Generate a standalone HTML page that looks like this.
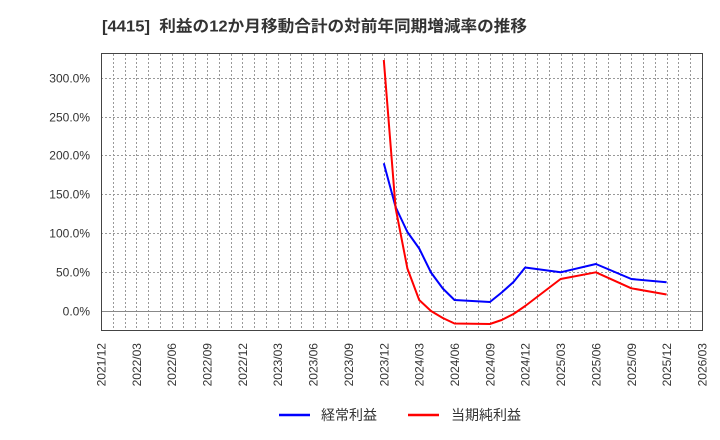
<!DOCTYPE html>
<html><head><meta charset="utf-8"><style>
html,body{margin:0;padding:0;background:#fff;}
svg{display:block;}
text{font-family:"Liberation Sans","Noto Sans CJK JP",sans-serif;fill:#333;}
</style></head><body>
<svg width="720" height="440" viewBox="0 0 720 440" xmlns="http://www.w3.org/2000/svg">
<rect x="0" y="0" width="720" height="440" fill="#fff"/>
<text x="102" y="31.5" font-size="16" font-weight="bold" xml:space="preserve" style="white-space:pre" textLength="425" lengthAdjust="spacingAndGlyphs">[4415]  利益の12か月移動合計の対前年同期増減率の推移</text>
<g id="vgrid" stroke="#999" stroke-width="1" stroke-dasharray="2,2">
</g>
<g stroke="#999" stroke-width="1" stroke-dasharray="2,2">
<line x1="101" y1="78.5" x2="702" y2="78.5"/>
<line x1="101" y1="117.5" x2="702" y2="117.5"/>
<line x1="101" y1="155.5" x2="702" y2="155.5"/>
<line x1="101" y1="194.5" x2="702" y2="194.5"/>
<line x1="101" y1="233.5" x2="702" y2="233.5"/>
<line x1="101" y1="272.5" x2="702" y2="272.5"/>
</g>
<script>
(function(){var g=document.getElementById('vgrid');
var ns='http://www.w3.org/2000/svg';for(var k=1;k<51;k++){var x=Math.round(101+k*601/51)+0.5;var l=document.createElementNS(ns,'line');l.setAttribute('x1',x);l.setAttribute('x2',x);l.setAttribute('y1',54);l.setAttribute('y2',330);g.appendChild(l);}})();
</script>
<line x1="101" y1="311.5" x2="702" y2="311.5" stroke="#888" stroke-width="1"/>
<rect x="101.5" y="53.5" width="601" height="277" fill="none" stroke="#444" stroke-width="1"/>
<g font-size="12" text-anchor="end">
<text x="90" y="82.5">300.0%</text>
<text x="90" y="121.5">250.0%</text>
<text x="90" y="159.5">200.0%</text>
<text x="90" y="198.5">150.0%</text>
<text x="90" y="237.5">100.0%</text>
<text x="90" y="276.5">50.0%</text>
<text x="90" y="315.5">0.0%</text>
</g>
<g font-size="12" text-anchor="end">
<text transform="translate(105.5,343) rotate(-90)">2021/12</text>
<text transform="translate(140.8,343) rotate(-90)">2022/03</text>
<text transform="translate(176.2,343) rotate(-90)">2022/06</text>
<text transform="translate(211.5,343) rotate(-90)">2022/09</text>
<text transform="translate(246.9,343) rotate(-90)">2022/12</text>
<text transform="translate(282.2,343) rotate(-90)">2023/03</text>
<text transform="translate(317.6,343) rotate(-90)">2023/06</text>
<text transform="translate(353.0,343) rotate(-90)">2023/09</text>
<text transform="translate(388.3,343) rotate(-90)">2023/12</text>
<text transform="translate(423.7,343) rotate(-90)">2024/03</text>
<text transform="translate(459.0,343) rotate(-90)">2024/06</text>
<text transform="translate(494.4,343) rotate(-90)">2024/09</text>
<text transform="translate(529.7,343) rotate(-90)">2024/12</text>
<text transform="translate(565.1,343) rotate(-90)">2025/03</text>
<text transform="translate(600.4,343) rotate(-90)">2025/06</text>
<text transform="translate(635.8,343) rotate(-90)">2025/09</text>
<text transform="translate(671.1,343) rotate(-90)">2025/12</text>
<text transform="translate(706.5,343) rotate(-90)">2026/03</text>
</g>
<polyline fill="none" stroke="#0000ff" stroke-width="2" stroke-linejoin="round" points="383.8,163.3 395.6,207 407.4,232 419.2,248.5 431,272.5 442.8,288.5 454.5,300 489.9,302 501.7,292.5 513.5,282 525.2,267.5 560.6,272.3 595.9,264 631.3,279 666.6,282.3"/>
<polyline fill="none" stroke="#ff0000" stroke-width="2" stroke-linejoin="round" points="383.8,60 395.6,208 407.4,268.5 419.2,300 431,311 442.8,318 454.5,323.5 489.9,324 501.7,320 513.5,314 525.2,306 560.6,279 595.9,272.3 631.3,288.3 666.6,294.5"/>
<line x1="279" y1="415" x2="310" y2="415" stroke="#0000ff" stroke-width="2.5"/>
<text x="321" y="420" font-size="14">経常利益</text>
<line x1="408" y1="415" x2="439" y2="415" stroke="#ff0000" stroke-width="2.5"/>
<text x="451" y="420" font-size="14">当期純利益</text>
</svg>
</body></html>
